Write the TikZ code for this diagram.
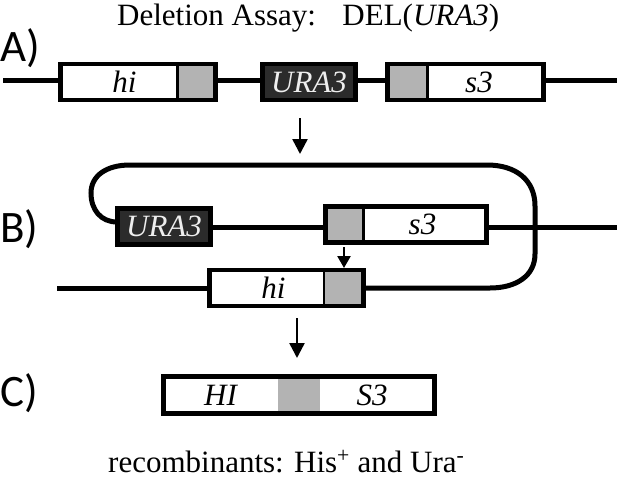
\documentclass[tikz,border=0pt]{standalone}
\usepackage{fontspec}
\setmainfont{Liberation Serif}
\newfontfamily\labfont{Carlito}
\usetikzlibrary{arrows.meta,calc}
\definecolor{darkbox}{HTML}{2B2B2B}
\definecolor{graybox}{HTML}{B3B3B3}
\definecolor{uratext}{HTML}{EEEEEE}
\tikzset{
  dna/.style={line width=5pt},
  boxline/.style={line width=4.5pt},
  genebox/.style={draw, line width=4.5pt, fill=white, minimum height=36pt, inner sep=0pt, outer sep=0pt},
  urabox/.style={genebox, fill=darkbox, text=uratext, font=\fontsize{31}{31}\selectfont\itshape},
  genetext/.style={font=\fontsize{31}{31}\selectfont\itshape, inner sep=0pt},
  secline/.style={draw, line width=2.5pt},
  steplabel/.style={font=\fontsize{45}{45}\selectfont\labfont, inner sep=0pt, anchor=base west},
  bigarrow/.style={line width=2.5pt, -{Triangle[width=15pt,length=15pt]}},
  smallarrow/.style={line width=2.5pt, -{Triangle[width=13pt,length=12pt]}},
  plaintext/.style={font=\fontsize{31}{31}\selectfont, inner sep=0pt, anchor=base west},
}
\begin{document}
\begin{tikzpicture}[x=1pt,y=-1pt]
\useasboundingbox (0,0) rectangle (625,479);
% title
\node[plaintext] (title) at (117,25) {Deletion Assay:\hspace*{0.85em}DEL(\textit{URA3})};
% labels
\node[steplabel] (la) at (0,61) {A)};
\node[steplabel] (lb) at (0,242) {B)};
\node[steplabel] (lc) at (0,406) {C)};
% ---- A
\coordinate (aL) at (3,80.5);
\coordinate (aR) at (617,80.5);
\node[genebox, minimum width=155pt] (hiA) at (138,82) {};
\node[urabox, minimum width=93pt] (uraA) at (309,82) {URA3};
\node[genebox, minimum width=156pt] (s3A) at (465.5,82) {};
\draw[dna] (aL) -- (hiA.west |- aL);
\draw[dna] (hiA.east |- aL) -- (uraA.west |- aL);
\draw[dna] (uraA.east |- aL) -- (s3A.west |- aL);
\draw[dna] (s3A.east |- aL) -- (aR);
\fill[graybox] ($(hiA.north east)+(-38,0)$) rectangle (hiA.south east);
\draw[secline] ($(hiA.north east)+(-38,0)$) -- ($(hiA.south east)+(-38,0)$);
\draw[boxline] (hiA.north west) rectangle (hiA.south east);
\node[genetext] (hiAt) at (124.5,82) {hi};
\fill[graybox] (s3A.north west) rectangle ($(s3A.south west)+(40,0)$);
\draw[secline] ($(s3A.north west)+(40,0)$) -- ($(s3A.south west)+(40,0)$);
\draw[boxline] (s3A.north west) rectangle (s3A.south east);
\node[genetext] (s3At) at (479,82) {s3};
% arrow 1
\coordinate (ar1a) at (300,118);
\coordinate (ar1b) at (300,154);
\draw[bigarrow] (ar1a) -- (ar1b);
% ---- B
\node[urabox, minimum width=93pt] (uraB) at (164,226.5) {URA3};
\node[genebox, minimum width=161pt] (s3B) at (406,224.5) {};
\node[genebox, minimum width=154pt] (hiB) at (286.5,288) {};
\coordinate (bR) at (617,227);
\coordinate (bL) at (57,288);
\draw[dna] (uraB.east |- bR) -- (s3B.west |- bR);
\draw[dna] (s3B.east |- bR) -- (bR);
\draw[dna] (bL) -- (hiB.west);
\coordinate (loopin) at (117,222);
\draw[dna] (loopin) .. controls (101,222) and (91,210) .. (91,193)
   .. controls (91,176) and (106,165) .. (130,165) -- (487,165)
   .. controls (516,165) and (535,180) .. (535,206) -- (535,254)
   .. controls (535,276) and (516,288) .. (490,288) -- (hiB.east);
\fill[graybox] (s3B.north west) rectangle ($(s3B.south west)+(38,0)$);
\draw[secline] ($(s3B.north west)+(38,0)$) -- ($(s3B.south west)+(38,0)$);
\draw[boxline] (s3B.north west) rectangle (s3B.south east);
\node[genetext] (s3Bt) at (422.5,224.5) {s3};
\fill[graybox] ($(hiB.north east)+(-39.5,0)$) rectangle (hiB.south east);
\draw[secline] ($(hiB.north east)+(-39.5,0)$) -- ($(hiB.south east)+(-39.5,0)$);
\draw[boxline] (hiB.north west) rectangle (hiB.south east);
\node[genetext] (hiBt) at (273.5,288) {hi};
\draw[boxline] (uraB.north west) rectangle (uraB.south east);
% small arrow
\coordinate (ar2a) at (344,247);
\coordinate (ar2b) at (344,268);
\draw[smallarrow] (ar2a) -- (ar2b);
% arrow 2
\coordinate (ar3a) at (297,318);
\coordinate (ar3b) at (297,358);
\draw[bigarrow] (ar3a) -- (ar3b);
% ---- C
\node[genebox, minimum width=271pt, minimum height=37pt] (cbox) at (299,395) {};
\fill[graybox] (278,378) rectangle (320,412);
\draw[boxline] (cbox.north west) rectangle (cbox.south east);
\node[genetext] (HIt) at (220.5,395) {HI};
\node[genetext] (S3t) at (372,395) {S3};
% bottom text
\node[plaintext] (rec) at (108,472) {recombinants: His\textsuperscript{+} and Ura\textsuperscript{-}};
\end{tikzpicture}
\end{document}
